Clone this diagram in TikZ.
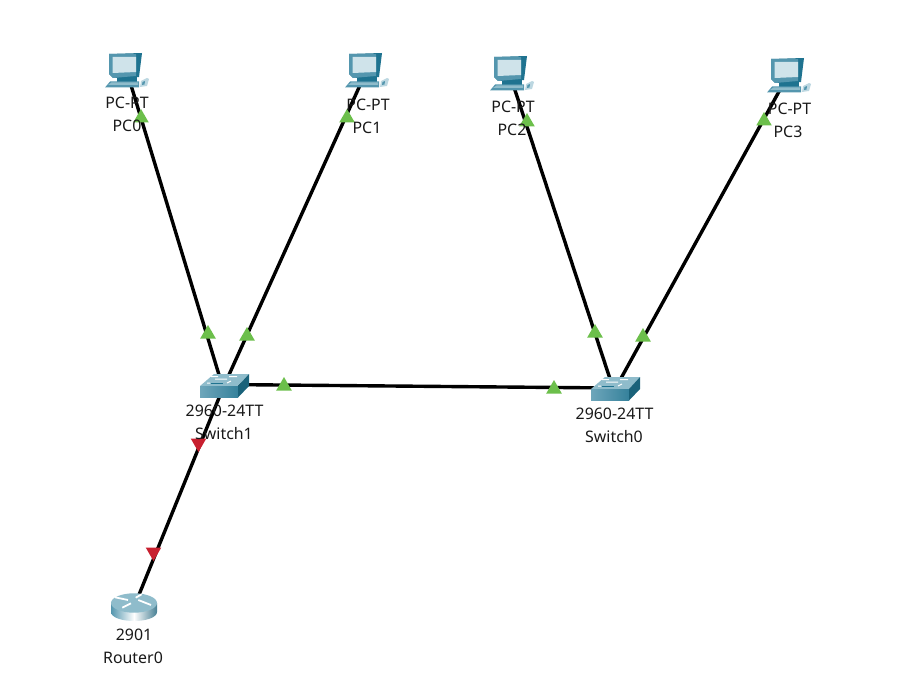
\documentclass[tikz,border=0pt]{standalone}
\usepackage{fontspec}
\setmainfont{Noto Sans}
\usetikzlibrary{shapes.geometric}
\definecolor{tealdark}{HTML}{1F7390}
\definecolor{tealmid}{HTML}{5496AE}
\definecolor{teallight}{HTML}{8FBCCB}
\definecolor{screen}{HTML}{CFE3EA}
\definecolor{linkgreen}{HTML}{6CBF4B}
\definecolor{linkred}{HTML}{C8202F}
\tikzset{
  link/.style={line width=3.4pt,black},
  lab/.style={font=\fontsize{15.9pt}{17pt}\selectfont,text=black!90,inner sep=0pt,anchor=center},
  up/.style={regular polygon,regular polygon sides=3,fill=linkgreen,inner sep=0pt,minimum size=18pt},
  down/.style={regular polygon,regular polygon sides=3,shape border rotate=180,fill=linkred,inner sep=0pt,minimum size=18pt},
  pcicon/.pic={
    \fill[tealdark] (-10,3) -- (10,3) -- (10,10) -- (-10,10) -- cycle;
    \fill[tealdark] (-18,-18) -- (15,-19) -- (12,5) -- (-14,6) -- (-18,2) -- cycle;
    \fill[tealmid] (-18,-18) -- (9,-18) -- (9,4) -- (-14,6) -- (-18,2) -- cycle;
    \fill[screen] (-14.5,-15) -- (9,-15) -- (9,0) -- (-14.5,1) -- cycle;
    \fill[tealmid] (-22,15.5) -- (-17,9.5) -- (12,9.5) -- (12,15.5) -- cycle;
    \fill[teallight] (-19,13) -- (-15.5,10.5) -- (11,10.5) -- (11,13) -- cycle;
    \fill[screen!70!teallight] (13,15) -- (14,9) -- (20,6) -- (22,7) -- (20,14) -- cycle;
    \fill[tealmid] (15,13) -- (15.5,10) -- (18,9) -- (17.5,12.5) -- cycle;
  },
  switchicon/.pic={
    \fill[teallight] (-23,-2) -- (-9,-14) -- (26,-14) -- (15,-2) -- cycle;
    \shade[left color=tealmid!85!white,right color=tealdark!90!white] (-23,-2) -- (15,-2) -- (15,9.5) -- (-23,9.5) -- cycle;
    \fill[tealdark!85!black] (15,-2) -- (26,-14) -- (26,-2) -- (15,9.5) -- cycle;
    \draw[white,line width=1pt] (-12,-11.5) -- (-5,-11.5) (6,-11.5) -- (14,-11.5) (-16,-5) -- (-13,-5) (-8,-9) -- (4,-9) (4,-5) -- (8,-7);
    \draw[tealdark,line width=.8pt] (-12,-5) -- (0,-5);
  },
  routericon/.pic={
    \shade[left color=tealmid,right color=tealmid!85!black,middle color=white,shading angle=90]
      (-23,-4) -- (-23,5) .. controls (-23,10.5) and (-12,14) .. (0,14) .. controls (12,14) and (23,10.5) .. (23,5) -- (23,-4) -- cycle;
    \fill[teallight] (0,-4) ellipse[x radius=23,y radius=9.7];
    \draw[white,line width=1.8pt] (-19,-9.7) -- (-6,-7) (1.7,-9.3) -- (7.7,-12.7) (4.3,-7) -- (17,-2) (-11.7,0.7) -- (-3,-3.7);
  }
}
\begin{document}
\begin{tikzpicture}[x=1pt,y=-1pt]
\useasboundingbox (0,0) rectangle (907,679);
% device positions
\coordinate (pc0) at (127,72);
\coordinate (pc1) at (366,72);
\coordinate (pc2) at (510,75);
\coordinate (pc3) at (787,77);
\coordinate (sw1) at (223,388);
\coordinate (sw0) at (614,391);
\coordinate (sw1e) at (223,384.5);
\coordinate (sw0w) at (614,388);
\coordinate (r0) at (134,607);
% connectors
\draw[link] (pc0) -- (sw1);
\draw[link] (pc1) -- (sw1);
\draw[link] (pc2) -- (sw0);
\draw[link] (pc3) -- (sw0);
\draw[link] (sw1e) -- (sw0w);
\draw[link] (sw1) -- (r0);
% link lights
\node[up] (t0a) at (141,118) {};
\node[up] (t0b) at (208,334) {};
\node[up] (t1a) at (347,118) {};
\node[up] (t1b) at (247,336) {};
\node[up] (t2a) at (527,122) {};
\node[up] (t2b) at (595,333) {};
\node[up] (t3a) at (764,121) {};
\node[up] (t3b) at (643,337) {};
\node[up] (t4a) at (284,386) {};
\node[up] (t4b) at (554,389) {};
\node[down] (t5a) at (198.5,443) {};
\node[down] (t5b) at (153.5,552) {};
% icons
\path (pc0) pic {pcicon};
\path ([xshift=1pt]pc1) pic {pcicon};
\path ([xshift=2pt]pc2) pic {pcicon};
\path ([xshift=2pt]pc3) pic {pcicon};
\path (sw1) pic {switchicon};
\path (sw0) pic {switchicon};
\path (r0) pic {routericon};
% labels
\node[lab] (l0a) at (127,102.5) {PC-PT};
\node[lab] (l0b) at (127,125.5) {PC0};
\node[lab] (l1a) at (368,104.5) {PC-PT};
\node[lab] (l1b) at (367,127.5) {PC1};
\node[lab] (l2a) at (513,106.5) {PC-PT};
\node[lab] (l2b) at (512,129.5) {PC2};
\node[lab] (l3a) at (789.5,108.5) {PC-PT};
\node[lab] (l3b) at (788,131.5) {PC3};
\node[lab] (l4a) at (224.5,410.5) {2960-24TT};
\node[lab] (l4b) at (224,433.5) {Switch1};
\node[lab] (l5a) at (614.5,413.5) {2960-24TT};
\node[lab] (l5b) at (614,436.5) {Switch0};
\node[lab] (l6a) at (134,634.5) {2901};
\node[lab] (l6b) at (133,657.5) {Router0};
\end{tikzpicture}
\end{document}
